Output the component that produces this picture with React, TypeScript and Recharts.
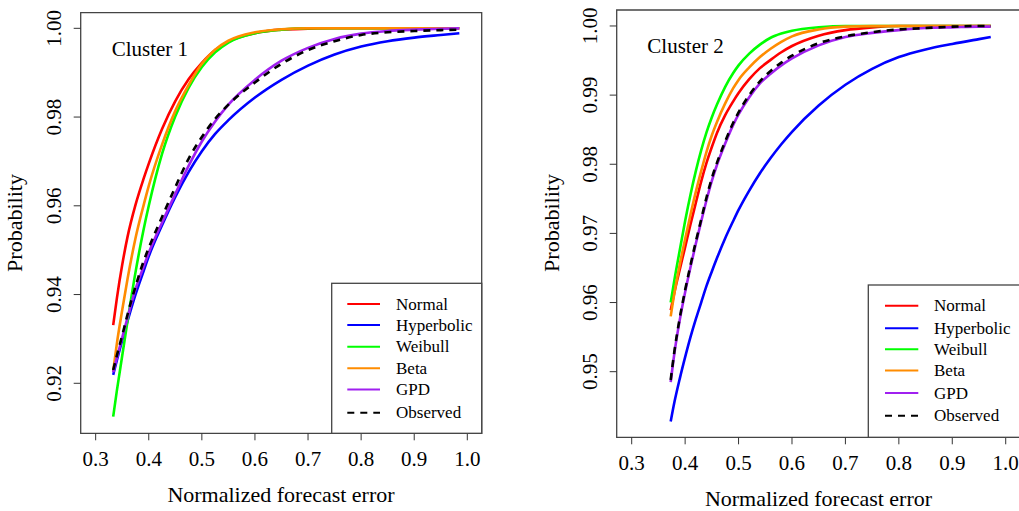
import React from 'react';
import { LineChart, Line, XAxis, YAxis, ReferenceArea } from 'recharts';

const FONT = "'Liberation Serif', 'Times New Roman', Times, serif";

const seriesNames = ['Normal', 'Hyperbolic', 'Weibull', 'Beta', 'GPD', 'Observed'];
const seriesKeys = ['normal', 'hyperbolic', 'weibull', 'beta', 'gpd', 'observed'];
const seriesColors = ['#FF0000', '#0000FF', '#00FF00', '#FF8C00', '#A020F0', '#000000'];

const xTicks = [0.3, 0.4, 0.5, 0.6, 0.7, 0.8, 0.9, 1.0];
const c1YTicks = [0.92, 0.94, 0.96, 0.98, 1.0];
const c2YTicks = [0.95, 0.96, 0.97, 0.98, 0.99, 1.0];
const panelTitles = ['Cluster 1', 'Cluster 2'];
const xTitle = 'Normalized forecast error';
const yTitle = 'Probability';

// Cluster 1
const c1X = [0.333, 0.34, 0.35, 0.36, 0.375, 0.39, 0.4, 0.425, 0.45, 0.475, 0.5, 0.525, 0.55, 0.6, 0.65, 0.7, 0.75, 0.8, 0.85, 0.9, 0.95, 0.985];
const c1Normal = [0.9331, 0.9392, 0.9467, 0.9530, 0.9602, 0.9660, 0.9695, 0.9773, 0.9836, 0.9885, 0.9922, 0.9951, 0.9970, 0.9989, 0.9997, 0.9999, 1.0, 1.0, 1.0, 1.0, 1.0, 1.0];
const c1Hyper = [0.9219, 0.9252, 0.9297, 0.9340, 0.9400, 0.9452, 0.9486, 0.9556, 0.9620, 0.9676, 0.9723, 0.9762, 0.9793, 0.9844, 0.9884, 0.9916, 0.9941, 0.9959, 0.9971, 0.9979, 0.9985, 0.9989];
const c1Weibull = [0.9125, 0.9184, 0.9262, 0.9340, 0.9450, 0.9545, 0.9600, 0.9717, 0.9802, 0.9866, 0.9913, 0.9946, 0.9968, 0.9989, 0.9997, 1.0, 1.0, 1.0, 1.0, 1.0, 1.0, 1.0];
const c1Beta = [0.9226, 0.9290, 0.9365, 0.9435, 0.9527, 0.9600, 0.9645, 0.9738, 0.9814, 0.9872, 0.9920, 0.9952, 0.9972, 0.9991, 0.9998, 1.0, 1.0, 1.0, 1.0, 1.0, 1.0, 1.0];
const c1GPD = [0.9225, 0.9258, 0.9303, 0.9348, 0.9412, 0.9462, 0.9494, 0.9562, 0.9627, 0.9690, 0.9745, 0.9790, 0.9828, 0.9884, 0.9927, 0.9956, 0.9976, 0.9988, 0.9994, 0.9997, 0.9999, 1.0];
const c1Obs = [0.9230, 0.9263, 0.9308, 0.9355, 0.9418, 0.9474, 0.9505, 0.9575, 0.9642, 0.9706, 0.9755, 0.9796, 0.9828, 0.9878, 0.9920, 0.9951, 0.9971, 0.9985, 0.9991, 0.9994, 0.9996, 0.9997];

// Cluster 2
const c2X = [0.373, 0.38, 0.39, 0.4, 0.41, 0.42, 0.43, 0.44, 0.45, 0.46, 0.475, 0.49, 0.5, 0.52, 0.54, 0.56, 0.58, 0.6, 0.65, 0.7, 0.75, 0.8, 0.85, 0.9, 0.95, 0.972];
const c2Normal = [0.9589, 0.9615, 0.9648, 0.9680, 0.9713, 0.9744, 0.9775, 0.9802, 0.9825, 0.9846, 0.9871, 0.9891, 0.9903, 0.9923, 0.9939, 0.9951, 0.9962, 0.9971, 0.9986, 0.9994, 0.9998, 1.0, 1.0, 1.0, 1.0, 1.0];
const c2Hyper = [0.9428, 0.9456, 0.9490, 0.9521, 0.9550, 0.9576, 0.9600, 0.9624, 0.9645, 0.9665, 0.9693, 0.9718, 0.9734, 0.9762, 0.9787, 0.9809, 0.9829, 0.9847, 0.9885, 0.9915, 0.9938, 0.9955, 0.9966, 0.9974, 0.9981, 0.9984];
const c2Weibull = [0.9600, 0.9633, 0.9676, 0.9718, 0.9756, 0.9790, 0.9820, 0.9846, 0.9868, 0.9887, 0.9912, 0.9932, 0.9943, 0.9960, 0.9973, 0.9983, 0.9989, 0.9993, 0.9998, 1.0, 1.0, 1.0, 1.0, 1.0, 1.0, 1.0];
const c2Beta = [0.9580, 0.9614, 0.9655, 0.9692, 0.9727, 0.9760, 0.9790, 0.9818, 0.9842, 0.9862, 0.9888, 0.9910, 0.9922, 0.9940, 0.9955, 0.9967, 0.9977, 0.9985, 0.9995, 0.9999, 1.0, 1.0, 1.0, 1.0, 1.0, 1.0];
const c2GPD = [0.9485, 0.9527, 0.9575, 0.9615, 0.9651, 0.9685, 0.9717, 0.9748, 0.9776, 0.9800, 0.9830, 0.9857, 0.9872, 0.9897, 0.9917, 0.9931, 0.9943, 0.9953, 0.9972, 0.9984, 0.9990, 0.9994, 0.9997, 0.9998, 0.9999, 0.9999];
const c2Obs = [0.9488, 0.9530, 0.9578, 0.9618, 0.9654, 0.9688, 0.9720, 0.9752, 0.9780, 0.9803, 0.9833, 0.9860, 0.9875, 0.9900, 0.9920, 0.9935, 0.9947, 0.9957, 0.9975, 0.9985, 0.9991, 0.9995, 0.9997, 0.9999, 1.0, 1.0];

function buildRows(xs: number[], cols: number[][]) {
  return xs.map((x, i) => {
    const row: Record<string, number> = { x };
    seriesKeys.forEach((k, j) => {
      row[k] = cols[j][i];
    });
    return row;
  });
}

const c1Rows = buildRows(c1X, [c1Normal, c1Hyper, c1Weibull, c1Beta, c1GPD, c1Obs]);
const c2Rows = buildRows(c2X, [c2Normal, c2Hyper, c2Weibull, c2Beta, c2GPD, c2Obs]);

const XTick = (props: any) => {
  const { x, y, payload } = props;
  return (
    <text x={x} y={y + 25.7} textAnchor="middle" fontFamily={FONT} fontSize={21} fill="#000">
      {Number(payload.value).toFixed(1)}
    </text>
  );
};

const YTick = (props: any) => {
  const { x, y, payload } = props;
  const bx = x - 12.7;
  return (
    <text
      x={bx}
      y={y}
      transform={`rotate(-90 ${bx} ${y})`}
      textAnchor="middle"
      fontFamily={FONT}
      fontSize={21}
      fill="#000"
    >
      {Number(payload.value).toFixed(2)}
    </text>
  );
};

type PanelProps = {
  left: number;
  width: number;
  margin: { top: number; right: number; bottom: number; left: number };
  yAxisWidth: number;
  xDomain: [number, number];
  yDomain: [number, number];
  yTicks: number[];
  rows: Record<string, number>[];
};

function Panel(p: PanelProps) {
  return (
    <div style={{ position: 'absolute', left: p.left, top: 0, width: p.width, height: 511 }}>
      <LineChart width={p.width} height={511} data={p.rows} margin={p.margin}>
        <XAxis
          dataKey="x"
          type="number"
          domain={p.xDomain}
          ticks={xTicks}
          allowDataOverflow
          axisLine={false}
          tickLine={{ stroke: '#333', strokeWidth: 1 }}
          tickSize={7}
          tickMargin={0}
          height={60}
          interval={0}
          tick={<XTick />}
        />
        <YAxis
          type="number"
          domain={p.yDomain}
          ticks={p.yTicks}
          allowDataOverflow
          axisLine={false}
          tickLine={{ stroke: '#333', strokeWidth: 1 }}
          tickSize={7}
          tickMargin={0}
          width={p.yAxisWidth}
          interval={0}
          tick={<YTick />}
        />
        <ReferenceArea
          x1={p.xDomain[0]}
          x2={p.xDomain[1]}
          y1={p.yDomain[0]}
          y2={p.yDomain[1]}
          fill="none"
          fillOpacity={0}
          stroke="#444"
          strokeWidth={1.3}
        />
        {seriesKeys.map((k, i) => (
          <Line
            key={k}
            dataKey={k}
            type="monotone"
            stroke={seriesColors[i]}
            strokeWidth={2.6}
            strokeDasharray={k === 'observed' ? '7 6' : undefined}
            dot={false}
            activeDot={false}
            isAnimationActive={false}
          />
        ))}
      </LineChart>
    </div>
  );
}

type LegendProps = {
  left: number;
  top: number;
  right: number;
  bottom: number;
  lx1: number;
  lx2: number;
  tx: number;
  ys: number[];
};

function LegendBox(l: LegendProps) {
  return (
    <g>
      <rect x={l.left} y={l.top} width={l.right - l.left} height={l.bottom - l.top} fill="#fff" stroke="#444" strokeWidth={1.3} />
      {seriesNames.map((n, i) => (
        <g key={n}>
          <line
            x1={l.lx1}
            x2={l.lx2}
            y1={l.ys[i]}
            y2={l.ys[i]}
            stroke={seriesColors[i]}
            strokeWidth={2}
            strokeDasharray={seriesKeys[i] === 'observed' ? '7 6' : undefined}
          />
          <text x={l.tx} y={l.ys[i] + 5.6} fontFamily={FONT} fontSize={17} fill="#000">
            {n}
          </text>
        </g>
      ))}
    </g>
  );
}

export default function App() {
  return (
    <div style={{ position: 'absolute', left: 0, top: 0, width: 1019, height: 511, overflow: 'hidden', background: '#fff' }}>
      <Panel
        left={0}
        width={500}
        margin={{ top: 12.7, right: 18.3, bottom: 17.7, left: 0 }}
        yAxisWidth={80.7}
        xDomain={[0.2718, 1.0271]}
        yDomain={[0.90873, 1.00352]}
        yTicks={c1YTicks}
        rows={c1Rows}
      />
      <Panel
        left={520}
        width={510}
        margin={{ top: 10, right: 9.3, bottom: 13.7, left: 0 }}
        yAxisWidth={96.7}
        xDomain={[0.27193, 1.02806]}
        yDomain={[0.94051, 1.00231]}
        yTicks={c2YTicks}
        rows={c2Rows}
      />
      <svg width={1019} height={511} style={{ position: 'absolute', left: 0, top: 0, pointerEvents: 'none' }}>
        <LegendBox left={331.7} top={283.3} right={481.7} bottom={433.3} lx1={347.3} lx2={380} tx={396} ys={[304, 325, 346.7, 368.3, 389.5, 412.7]} />
        <LegendBox left={868.3} top={285} right={1030} bottom={437.3} lx1={885} lx2={918.3} tx={934} ys={[305.7, 328.3, 349.3, 370.5, 393, 415.7]} />
        <text x={111.7} y={56} fontFamily={FONT} fontSize={21} fill="#000">{panelTitles[0]}</text>
        <text x={647.3} y={52.7} fontFamily={FONT} fontSize={21} fill="#000">{panelTitles[1]}</text>
        <text x={281} y={502} textAnchor="middle" fontFamily={FONT} fontSize={22} fill="#000">{xTitle}</text>
        <text x={818.5} y={506} textAnchor="middle" fontFamily={FONT} fontSize={22} fill="#000">{xTitle}</text>
        <text x={22} y={223} transform="rotate(-90 22 223)" textAnchor="middle" fontFamily={FONT} fontSize={22} fill="#000">{yTitle}</text>
        <text x={559} y={223} transform="rotate(-90 559 223)" textAnchor="middle" fontFamily={FONT} fontSize={22} fill="#000">{yTitle}</text>
      </svg>
    </div>
  );
}
